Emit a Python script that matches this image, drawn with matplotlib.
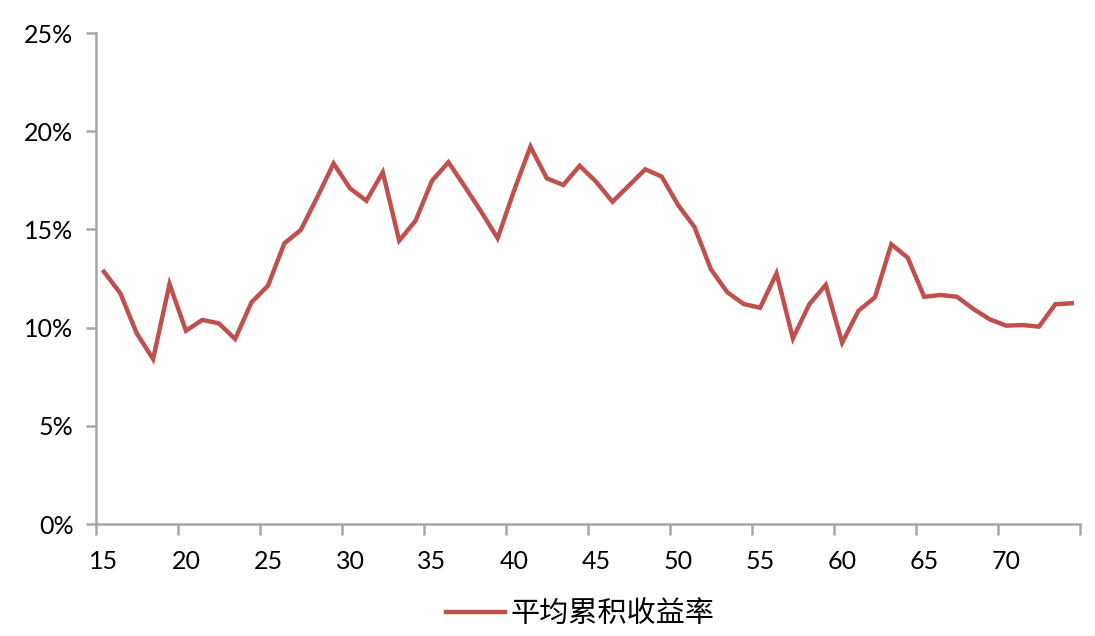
import matplotlib
matplotlib.use("Agg")
import matplotlib.pyplot as plt
import numpy as np

ages = list(range(15, 75))
avg_cum_return = [
    12.85, 11.75, 9.71, 8.40, 12.22, 9.84, 10.39, 10.22, 9.42, 11.29,
    12.13, 14.29, 14.97, 16.63, 18.36, 17.09, 16.46, 17.91, 14.43, 15.44,
    17.48, 18.42, 17.18, 15.90, 14.55, 16.97, 19.21, 17.60, 17.26, 18.24,
    17.43, 16.41, 17.23, 18.06, 17.69, 16.24, 15.12, 12.97, 11.80, 11.20,
    11.01, 12.76, 9.45, 11.19, 12.17, 9.23, 10.86, 11.54, 14.24, 13.56,
    11.57, 11.66, 11.57, 10.95, 10.42, 10.10, 10.13, 10.05, 11.19, 11.24,
]
series_name = "平均累积收益率"
y_ticks = [0, 5, 10, 15, 20, 25]
x_labels = ["15", "20", "25", "30", "35", "40", "45", "50", "55", "60", "65", "70"]

plt.rcParams['font.family'] = ['Lato', 'DejaVu Sans']

fig = plt.figure(figsize=(10.95, 6.36), dpi=100)
ax = fig.add_axes([0.0874, 0.1761, 0.8989, 0.7720])

x = np.arange(len(ages))
line, = ax.plot(x, avg_cum_return, color='#C0504D', lw=3.2, solid_joinstyle='miter',
                label=series_name)

ax.set_xlim(-0.5, len(ages) - 0.5)
ax.set_ylim(0, 25)

axis_gray = '#A6A6A6'
for s in ['top', 'right']:
    ax.spines[s].set_visible(False)
for s in ['left', 'bottom']:
    ax.spines[s].set_color(axis_gray)
    ax.spines[s].set_linewidth(1.8)

ax.set_yticks(y_ticks)
ax.set_yticklabels([f"{v}%" for v in y_ticks])
ax.tick_params(axis='y', direction='out', length=7, width=1.8, color=axis_gray,
               labelsize=18, pad=9, labelcolor='black')

# category axis: tick marks at boundaries, labels at category centres
ax.set_xticks(np.arange(-0.5, len(ages), 5))
ax.set_xticklabels([])
ax.tick_params(axis='x', which='major', direction='out', length=8, width=1.8,
               color=axis_gray)
ax.set_xticks(np.arange(0, len(ages), 5), minor=True)
ax.set_xticklabels(x_labels, minor=True)
ax.tick_params(axis='x', which='minor', length=0, labelsize=18, pad=19,
               labelcolor='black')

leg = ax.legend(handles=[line], loc='center', bbox_to_anchor=(0.53, 0.035),
                bbox_transform=fig.transFigure, frameon=False,
                prop={'family': ['Noto Sans CJK SC', 'DejaVu Sans'], 'size': 21},
                handlelength=2.0, handletextpad=0.2)

fig.savefig("out.png", dpi=100)
